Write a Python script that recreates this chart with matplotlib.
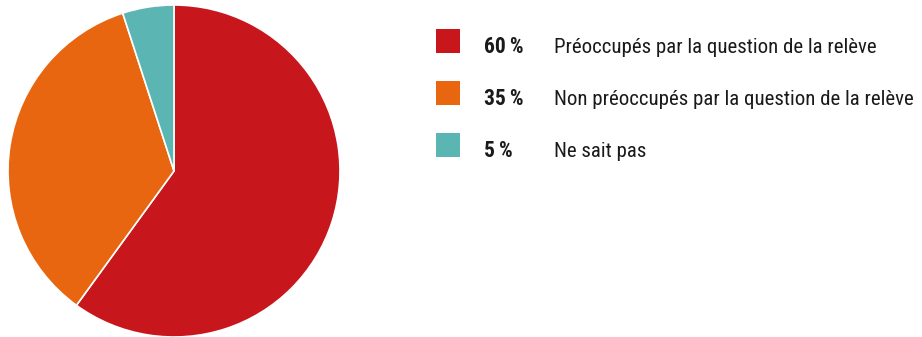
import matplotlib.pyplot as plt
from matplotlib.patches import Rectangle
from matplotlib import font_manager

labels = ['Préoccupés par la question de la relève',
          'Non préoccupés par la question de la relève',
          'Ne sait pas']
shares = [60, 35, 5]
colors = ['#C8161D', '#E8660F', '#5BB5B3']

names = {f.name for f in font_manager.fontManager.ttflist}
family = [f for f in ['Roboto Condensed', 'Liberation Sans Narrow', 'Roboto', 'DejaVu Sans'] if f in names]

W, H = 922, 337
fig = plt.figure(figsize=(W / 100, H / 100), dpi=100)

# pie on the left, clockwise from 12 o'clock
ax = fig.add_axes([8 / W, 0, 332 / W, 332 / H])
ax.pie(shares, colors=colors, startangle=90, counterclock=False,
       wedgeprops=dict(edgecolor='white', linewidth=1.2))
ax.set_xlim(-1, 1)
ax.set_ylim(-1, 1)
ax.set_aspect('equal')
ax.axis('off')

# legend: colour square, bold percentage, label (baseline on the square's bottom edge)
for i, (lab, v, c) in enumerate(zip(labels, shares, colors)):
    yb = 53 + 52 * i
    fig.patches.append(Rectangle((436 / W, 1 - yb / H), 24 / W, 24 / H,
                                 transform=fig.transFigure, facecolor=c, edgecolor='none'))
    fig.text(484 / W, 1 - yb / H, f'{v}\u2009%', fontsize=15.5, fontweight='bold',
             family=family, va='baseline', ha='left', color='#1a1a1a')
    fig.text(554 / W, 1 - yb / H, lab, fontsize=15,
             family=family, va='baseline', ha='left', color='#1a1a1a')

fig.savefig('out.png', dpi=100)
